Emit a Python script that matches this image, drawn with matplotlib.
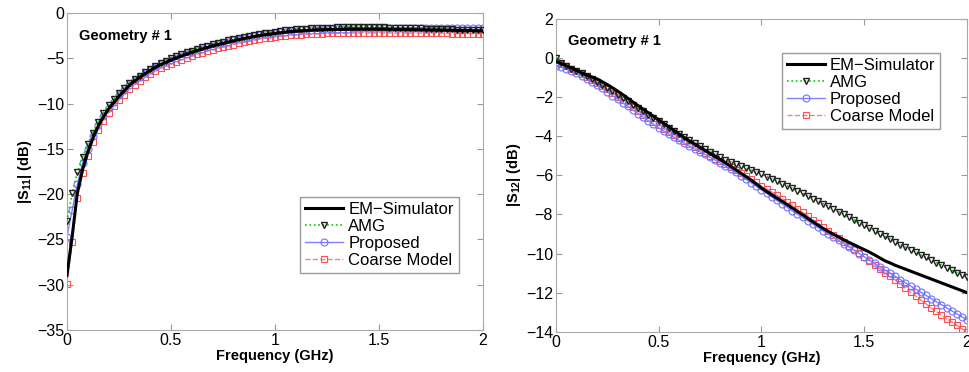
import numpy as np
import matplotlib
matplotlib.use("Agg")
import matplotlib.pyplot as plt

plt.rcParams['font.family'] = ['Liberation Sans', 'DejaVu Sans']
plt.rcParams['mathtext.fontset'] = 'custom'
plt.rcParams['mathtext.bf'] = 'Liberation Sans:bold'
plt.rcParams['mathtext.rm'] = 'Liberation Sans'

# frequency grid (GHz), 0.025 GHz step
freq = np.linspace(0, 2, 81)

# |S11| (dB)
s11_em = [-29.0, -24.7, -19.9, -17.3, -15.4, -13.8, -12.5, -11.5, -10.6, -9.9,
          -9.2, -8.6, -8.0, -7.5, -7.1, -6.7, -6.35, -6.0, -5.7, -5.45,
          -5.2, -4.97, -4.75, -4.55, -4.35, -4.15, -3.97, -3.8, -3.64, -3.49,
          -3.35, -3.21, -3.08, -2.95, -2.83, -2.71, -2.6, -2.5, -2.41, -2.33,
          -2.25, -2.18, -2.12, -2.06, -2.01, -1.97, -1.93, -1.9, -1.87, -1.85,
          -1.83, -1.82, -1.81, -1.8, -1.79, -1.79, -1.78, -1.78, -1.78, -1.78,
          -1.79, -1.79, -1.8, -1.8, -1.81, -1.82, -1.83, -1.84, -1.85, -1.86,
          -1.87, -1.88, -1.89, -1.9, -1.91, -1.92, -1.93, -1.94, -1.95, -1.96,
          -1.97]
s11_amg = [-23.0, -19.9, -17.6, -15.9, -14.5, -13.2, -12.0, -11.0, -10.2, -9.5,
           -8.85, -8.3, -7.75, -7.3, -6.9, -6.5, -6.15, -5.82, -5.52, -5.25,
           -5.0, -4.77, -4.55, -4.35, -4.15, -3.96, -3.78, -3.61, -3.45, -3.3,
           -3.16, -3.03, -2.9, -2.78, -2.66, -2.55, -2.44, -2.34, -2.25, -2.16,
           -2.08, -2.0, -1.93, -1.87, -1.81, -1.76, -1.72, -1.68, -1.65, -1.63,
           -1.61, -1.6, -1.59, -1.58, -1.58, -1.57, -1.57, -1.57, -1.57, -1.58,
           -1.58, -1.59, -1.6, -1.61, -1.62, -1.63, -1.65, -1.67, -1.69, -1.71,
           -1.73, -1.75, -1.77, -1.79, -1.81, -1.83, -1.85, -1.87, -1.89, -1.9,
           -1.92]
s11_prop = [-24.7, -21.8, -18.9, -16.6, -15.0, -13.6, -12.4, -11.4, -10.5, -9.8,
            -9.1, -8.5, -7.95, -7.45, -7.05, -6.65, -6.3, -5.95, -5.65, -5.4,
            -5.15, -4.92, -4.7, -4.5, -4.3, -4.1, -3.92, -3.75, -3.59, -3.44,
            -3.3, -3.16, -3.03, -2.9, -2.78, -2.66, -2.55, -2.45, -2.36, -2.28,
            -2.2, -2.13, -2.07, -2.01, -1.96, -1.92, -1.88, -1.85, -1.82, -1.8,
            -1.78, -1.76, -1.74, -1.72, -1.71, -1.7, -1.69, -1.68, -1.67, -1.66,
            -1.66, -1.65, -1.65, -1.65, -1.64, -1.64, -1.64, -1.63, -1.63, -1.63,
            -1.62, -1.62, -1.62, -1.61, -1.61, -1.61, -1.6, -1.6, -1.6, -1.6,
            -1.6]
s11_coarse = [-29.9, -25.3, -20.4, -17.7, -15.8, -14.2, -12.9, -11.9, -11.0, -10.3,
              -9.6, -9.0, -8.4, -7.9, -7.5, -7.1, -6.75, -6.4, -6.1, -5.85,
              -5.6, -5.37, -5.15, -4.95, -4.75, -4.55, -4.37, -4.2, -4.04, -3.89,
              -3.75, -3.61, -3.48, -3.35, -3.23, -3.11, -3.0, -2.9, -2.81, -2.73,
              -2.65, -2.58, -2.52, -2.47, -2.42, -2.38, -2.35, -2.32, -2.3, -2.28,
              -2.26, -2.25, -2.24, -2.23, -2.22, -2.22, -2.21, -2.21, -2.21, -2.21,
              -2.21, -2.21, -2.21, -2.22, -2.22, -2.22, -2.23, -2.23, -2.24, -2.24,
              -2.25, -2.25, -2.26, -2.26, -2.27, -2.27, -2.28, -2.28, -2.29, -2.29,
              -2.3]

# |S12| (dB)
s12_em = [-0.2, -0.28, -0.4, -0.52, -0.64, -0.77, -0.89, -0.98, -1.08, -1.22,
          -1.37, -1.53, -1.7, -1.88, -2.07, -2.26, -2.45, -2.63, -2.81, -2.99,
          -3.17, -3.35, -3.53, -3.71, -3.9, -4.08, -4.25, -4.41, -4.57, -4.73,
          -4.89, -5.05, -5.2, -5.37, -5.55, -5.72, -5.9, -6.07, -6.25, -6.45,
          -6.65, -6.83, -7.0, -7.17, -7.33, -7.5, -7.67, -7.85, -8.02, -8.2,
          -8.38, -8.55, -8.72, -8.87, -9.02, -9.15, -9.3, -9.43, -9.55, -9.68,
          -9.8, -9.93, -10.07, -10.22, -10.37, -10.48, -10.6, -10.7, -10.8, -10.9,
          -11.0, -11.1, -11.2, -11.3, -11.4, -11.5, -11.6, -11.7, -11.8, -11.9,
          -12.0]
s12_amg = [0.0, -0.25, -0.4, -0.55, -0.68, -0.8, -0.95, -1.1, -1.25, -1.4,
           -1.55, -1.72, -1.9, -2.06, -2.23, -2.4, -2.57, -2.74, -2.9, -3.07,
           -3.24, -3.4, -3.57, -3.73, -3.9, -4.05, -4.2, -4.35, -4.5, -4.65,
           -4.8, -4.94, -5.08, -5.2, -5.32, -5.43, -5.54, -5.65, -5.75, -5.85,
           -5.95, -6.07, -6.19, -6.31, -6.43, -6.55, -6.67, -6.8, -6.93, -7.06,
           -7.19, -7.32, -7.45, -7.58, -7.72, -7.86, -8.0, -8.14, -8.28, -8.42,
           -8.56, -8.7, -8.84, -8.98, -9.12, -9.26, -9.4, -9.54, -9.68, -9.81,
           -9.94, -10.07, -10.2, -10.33, -10.46, -10.59, -10.72, -10.85, -10.97, -11.09,
           -11.2]
s12_prop = [-0.42, -0.48, -0.57, -0.68, -0.8, -0.93, -1.07, -1.22, -1.38, -1.56,
            -1.74, -1.93, -2.11, -2.29, -2.48, -2.67, -2.85, -3.04, -3.22, -3.4,
            -3.58, -3.75, -3.91, -4.07, -4.22, -4.37, -4.52, -4.66, -4.8, -4.94,
            -5.08, -5.23, -5.38, -5.53, -5.69, -5.86, -6.03, -6.2, -6.38, -6.56,
            -6.75, -6.93, -7.11, -7.29, -7.46, -7.64, -7.82, -7.99, -8.16, -8.33,
            -8.5, -8.67, -8.84, -9.0, -9.17, -9.33, -9.5, -9.66, -9.83, -10.0,
            -10.17, -10.33, -10.5, -10.67, -10.83, -11.0, -11.17, -11.33, -11.5, -11.66,
            -11.82, -11.98, -12.14, -12.3, -12.46, -12.61, -12.77, -12.92, -13.08, -13.23,
            -13.38]
s12_coarse = [-0.2, -0.3, -0.42, -0.55, -0.68, -0.82, -0.97, -1.12, -1.28, -1.45,
              -1.62, -1.8, -1.98, -2.16, -2.35, -2.54, -2.73, -2.92, -3.1, -3.28,
              -3.46, -3.63, -3.8, -3.96, -4.11, -4.26, -4.41, -4.56, -4.71, -4.86,
              -5.0, -5.15, -5.29, -5.43, -5.58, -5.73, -5.88, -6.04, -6.2, -6.37,
              -6.54, -6.7, -6.86, -7.02, -7.19, -7.36, -7.53, -7.71, -7.89, -8.08,
              -8.27, -8.46, -8.65, -8.84, -9.03, -9.22, -9.41, -9.6, -9.79, -9.98,
              -10.17, -10.37, -10.57, -10.77, -10.97, -11.17, -11.37, -11.57, -11.77, -11.97,
              -12.17, -12.37, -12.57, -12.77, -12.96, -13.15, -13.33, -13.5, -13.67, -13.84,
              -14.0]

labels = ["EM\u2212Simulator", "AMG", "Proposed", "Coarse Model"]


def draw(ax, em, amg, prop, coarse):
    ax.plot(freq, amg, color='#00cc00', ls=':', lw=1.2, marker='v', ms=5,
            mec='#222222', mfc='none', mew=1.0, label=labels[1], zorder=3)
    ax.plot(freq, coarse, color='#ff8080', ls='--', lw=1.0, marker='s', ms=4,
            mec='#ff5050', mfc='none', mew=0.8, label=labels[3], zorder=2)
    ax.plot(freq, prop, color='#8080ff', ls='-', lw=1.0, marker='o', ms=5,
            mec='#7070ff', mfc='none', mew=0.8, label=labels[2], zorder=2)
    ax.plot(freq, em, color='black', lw=2.2, label=labels[0], zorder=4)
    ax.set_xlim(0, 2)
    ax.set_xticks([0, 0.5, 1, 1.5, 2])
    ax.set_xticklabels(['0', '0.5', '1', '1.5', '2'])
    ax.tick_params(direction='in', top=True, right=True, labelsize=11.5,
                   color='#999999', length=4, pad=2)
    for sp in ax.spines.values():
        sp.set_color('#aaaaaa')
    ax.set_xlabel("Frequency (GHz)", fontweight='bold', fontsize=10.5, labelpad=1)
    ax.text(0.03, 0.95, "Geometry # 1", transform=ax.transAxes, fontsize=10.5,
            fontweight='bold', va='top', ha='left')
    h, l = ax.get_legend_handles_labels()
    order = [l.index(x) for x in labels]
    return [h[i] for i in order], [l[i] for i in order]


legend_style = dict(fontsize=12, fancybox=False, edgecolor='#999999',
                    handlelength=2.3, borderpad=0.3, labelspacing=0.12,
                    handletextpad=0.3, framealpha=1, borderaxespad=0)

fig = plt.figure(figsize=(9.7, 3.72), dpi=100)
ax1 = fig.add_axes([0.069, 0.113, 0.429, 0.852])
ax2 = fig.add_axes([0.573, 0.108, 0.424, 0.842])

h, l = draw(ax1, s11_em, s11_amg, s11_prop, s11_coarse)
ax1.set_ylim(-35, 0)
ax1.set_yticks(np.arange(-35, 1, 5))
ax1.set_ylabel(r"|S$_{\mathbf{11}}$| (dB)", fontweight='bold', fontsize=10.5, labelpad=2)
ax1.legend(h, l, loc='lower right', bbox_to_anchor=(0.942, 0.18), **legend_style)

h, l = draw(ax2, s12_em, s12_amg, s12_prop, s12_coarse)
ax2.set_ylim(-14, 2)
ax2.set_yticks(np.arange(-14, 3, 2))
ax2.set_ylabel(r"|S$_{\mathbf{12}}$| (dB)", fontweight='bold', fontsize=10.5, labelpad=2)
ax2.legend(h, l, loc='upper right', bbox_to_anchor=(0.935, 0.89), **legend_style)

fig.savefig("out.png", dpi=100)
